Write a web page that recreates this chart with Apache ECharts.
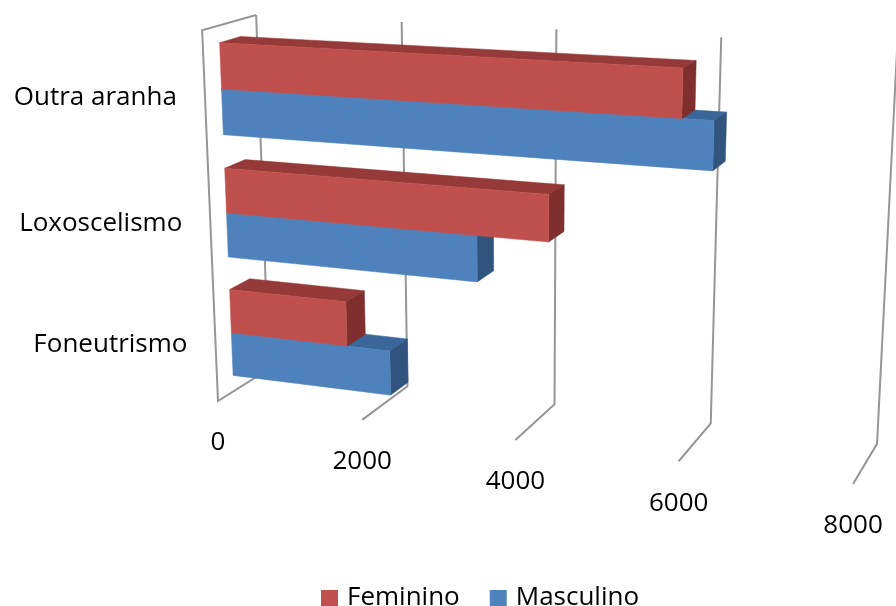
<!DOCTYPE html>
<html>
<head>
<meta charset="utf-8">
<style>
  html, body { margin: 0; padding: 0; background: #ffffff; }
  #chart { width: 896px; height: 606px; }
</style>
<script src="https://cdn.jsdelivr.net/npm/echarts@6/dist/echarts.min.js"></script>
</head>
<body>
<div id="chart"></div>
<script>
// Acidentes por aranha, por sexo
const categories = ['Foneutrismo', 'Loxoscelismo', 'Outra aranha'];
const feminino = [1620, 4260, 5830];
const masculino = [2200, 3360, 6200];
const ticks = [0, 2000, 4000, 6000, 8000];
const tickLabels = ['0', '2000', '4000', '6000', '8000'];

const FONT = '"Open Sans", sans-serif';

// Perspective camera: maps unit-box coordinates (X along value axis,
// Y along category axis, Z into depth) to screen pixels.
const CAM = [
  [533.3, -25.95, 63.8, 218],
  [25.3, -372.3, -13.8, 401],
  [-0.1193, -0.0499, 0.0487, 1]
];
function project(X, Y, Z) {
  const w = CAM[2][0] * X + CAM[2][1] * Y + CAM[2][2] * Z + CAM[2][3];
  return [
    (CAM[0][0] * X + CAM[0][1] * Y + CAM[0][2] * Z + CAM[0][3]) / w,
    (CAM[1][0] * X + CAM[1][1] * Y + CAM[1][2] * Z + CAM[1][3]) / w
  ];
}
// Flat cartesian pixel -> unit box coordinates
function unitX(cs, px) { return (px - cs.x) / cs.width; }
function unitY(cs, py) { return (cs.y + cs.height - py) / cs.height; }

const Z_FRONT = 0.30, Z_BACK = 0.69;
const BAR_FRAC = 0.365;

function makeBarRenderer(upper, colors) {
  return function (params, api) {
    const cs = params.coordSys;
    const cat = api.value(1);
    const end = api.coord([api.value(0), cat]);
    const start = api.coord([0, cat]);
    const band = api.size([0, 1])[1];
    const X0 = unitX(cs, start[0]);
    const X1 = unitX(cs, end[0]);
    const Yc = unitY(cs, end[1]);
    const h = band * BAR_FRAC / cs.height;
    const Ylo = upper ? Yc : Yc - h;
    const Yhi = upper ? Yc + h : Yc;
    const poly = (pts, fill) => ({
      type: 'polygon',
      shape: { points: pts.map(p => project(p[0], p[1], p[2])) },
      style: { fill: fill, stroke: fill, lineWidth: 0.5 }
    });
    return {
      type: 'group',
      children: [
        poly([[X0, Yhi, Z_FRONT], [X1, Yhi, Z_FRONT], [X1, Yhi, Z_BACK], [X0, Yhi, Z_BACK]], colors.top),
        poly([[X1, Ylo, Z_FRONT], [X1, Ylo, Z_BACK], [X1, Yhi, Z_BACK], [X1, Yhi, Z_FRONT]], colors.side),
        poly([[X0, Ylo, Z_FRONT], [X1, Ylo, Z_FRONT], [X1, Yhi, Z_FRONT], [X0, Yhi, Z_FRONT]], colors.front)
      ]
    };
  };
}

function renderFrame(params, api) {
  const cs = params.coordSys;
  const idx = params.dataIndex;
  const X = unitX(cs, api.coord([api.value(0), 0])[0]);
  let pts;
  if (idx === 0) {
    pts = [[X, 1, 1], [X, 1, 0], [X, 0, 0], [X, 0, 1], [X, 1, 1]];
  } else {
    pts = [[X, 1, 1], [X, 0, 1], [X, 0, 0]];
  }
  const front = project(X, 0, 0);
  return {
    type: 'group',
    children: [
      {
        type: 'polyline',
        shape: { points: pts.map(p => project(p[0], p[1], p[2])) },
        style: { stroke: '#969696', lineWidth: 2, fill: null }
      },
      {
        type: 'text',
        x: front[0],
        y: front[1] + 42,
        style: {
          text: tickLabels[idx],
          font: '26px ' + FONT,
          fill: '#000000',
          align: 'center',
          verticalAlign: 'middle'
        }
      }
    ]
  };
}

function renderCategory(params, api) {
  const cs = params.coordSys;
  const p = api.coord([0, api.value(1)]);
  const q = project(0, unitY(cs, p[1]), 0);
  return {
    type: 'text',
    x: q[0] - 28,
    y: q[1] + 3,
    style: {
      text: categories[api.value(1)],
      font: '26px ' + FONT,
      fill: '#000000',
      align: 'right',
      verticalAlign: 'middle'
    }
  };
}

const chart = echarts.init(document.getElementById('chart'), null, { renderer: 'canvas' });
chart.setOption({
  animation: false,
  backgroundColor: '#ffffff',
  grid: { left: 0, right: 0, top: 0, bottom: 0 },
  xAxis: { type: 'value', min: 0, max: 8000, interval: 2000, show: false },
  yAxis: { type: 'category', data: categories, show: false },
  legend: {
    data: ['Feminino', 'Masculino'],
    left: 316,
    top: 580,
    icon: 'rect',
    itemWidth: 17,
    itemHeight: 16,
    itemGap: 30,
    textStyle: { fontFamily: FONT, fontSize: 26, color: '#000000', padding: [0, 0, 0, 4] },
    selectedMode: false
  },
  series: [
    {
      type: 'custom',
      name: 'frame',
      silent: true,
      z: 1,
      data: ticks.map(t => [t, 0]),
      renderItem: renderFrame
    },
    {
      type: 'custom',
      name: 'labels',
      silent: true,
      z: 1,
      data: categories.map((c, i) => [0, i]),
      renderItem: renderCategory
    },
    {
      type: 'custom',
      name: 'Masculino',
      silent: true,
      z: 2,
      itemStyle: { color: '#4F81BD' },
      data: masculino.map((v, i) => [v, i]),
      renderItem: makeBarRenderer(false, { front: '#4F81BD', top: '#3B6699', side: '#31547F' })
    },
    {
      type: 'custom',
      name: 'Feminino',
      silent: true,
      z: 3,
      itemStyle: { color: '#C0504D' },
      data: feminino.map((v, i) => [v, i]),
      renderItem: makeBarRenderer(true, { front: '#C0504D', top: '#953A38', side: '#7E2F2E' })
    }
  ]
});
</script>
</body>
</html>
